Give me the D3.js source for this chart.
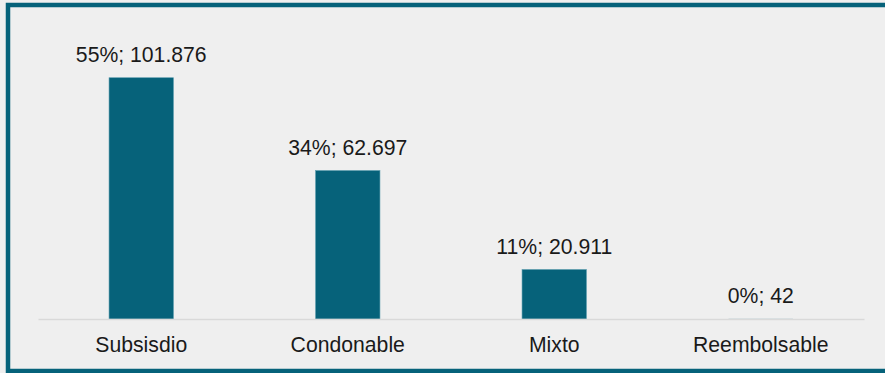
<!DOCTYPE html>
<html lang="es">
<head>
<meta charset="UTF-8">
<title>Montos por tipo</title>
<script src="https://cdn.jsdelivr.net/npm/d3@7"></script>
<style>
  html, body { margin: 0; padding: 0; background: #efefef; }
  svg { display: block; }
</style>
</head>
<body>
<svg id="svg"></svg>
<script>
const categories = ["Subsisdio", "Condonable", "Mixto", "Reembolsable"];
const values = [101876, 62697, 20911, 42];
const percents = ["55%", "34%", "11%", "0%"];

const width = 885;
const height = 373;
const teal = "#06627a";

const svg = d3.select("#svg")
    .attr("width", width)
    .attr("height", height)
    .style("font-family", "'Liberation Sans', Arial, sans-serif");

// background + frame (right edge clipped off the picture)
svg.append("rect")
    .attr("width", width).attr("height", height)
    .attr("fill", "#efefef");
svg.append("rect")
    .attr("x", 8).attr("y", 5)
    .attr("width", width + 10).attr("height", 366)
    .attr("fill", "none")
    .attr("stroke", teal)
    .attr("stroke-width", 4.5);

const x = d3.scaleBand()
    .domain(categories)
    .range([38, 864])
    .paddingInner(0.688)
    .paddingOuter(0.344);

const y = d3.scaleLinear()
    .domain([0, 120000])
    .range([319, 34.8]);

const fmt = d3.formatLocale({ decimal: ",", thousands: ".", grouping: [3], currency: ["", ""] }).format(",d");

svg.selectAll("rect.bar")
    .data(values)
    .enter()
    .append("rect")
    .attr("class", "bar")
    .attr("x", (d, i) => x(categories[i]))
    .attr("y", d => y(d))
    .attr("width", x.bandwidth())
    .attr("height", d => y(0) - y(d))
    .attr("fill", teal)
    .attr("stroke", d => (y(0) - y(d)) > 2 ? "#5f9fb0" : "none")
    .attr("stroke-width", 0.6);

// baseline axis
const axis = svg.append("g")
    .attr("transform", `translate(0,${y(0)})`)
    .call(d3.axisBottom(x).tickSize(0).tickPadding(0));
axis.select(".domain")
    .attr("stroke", "#d9d9d9")
    .attr("stroke-width", 1.5);
axis.selectAll(".tick text")
    .attr("dy", null)
    .attr("y", 33)
    .attr("font-size", 21.2)
    .attr("font-family", "'Liberation Sans', Arial, sans-serif")
    .attr("fill", "#1a1a1a");

// value labels
svg.selectAll("text.val")
    .data(values)
    .enter()
    .append("text")
    .attr("class", "val")
    .attr("x", (d, i) => x(categories[i]) + x.bandwidth() / 2)
    .attr("y", d => y(d) - 15.5)
    .attr("text-anchor", "middle")
    .attr("font-size", 21.2)
    .attr("fill", "#1a1a1a")
    .text((d, i) => percents[i] + "; " + fmt(d));
</script>
</body>
</html>
